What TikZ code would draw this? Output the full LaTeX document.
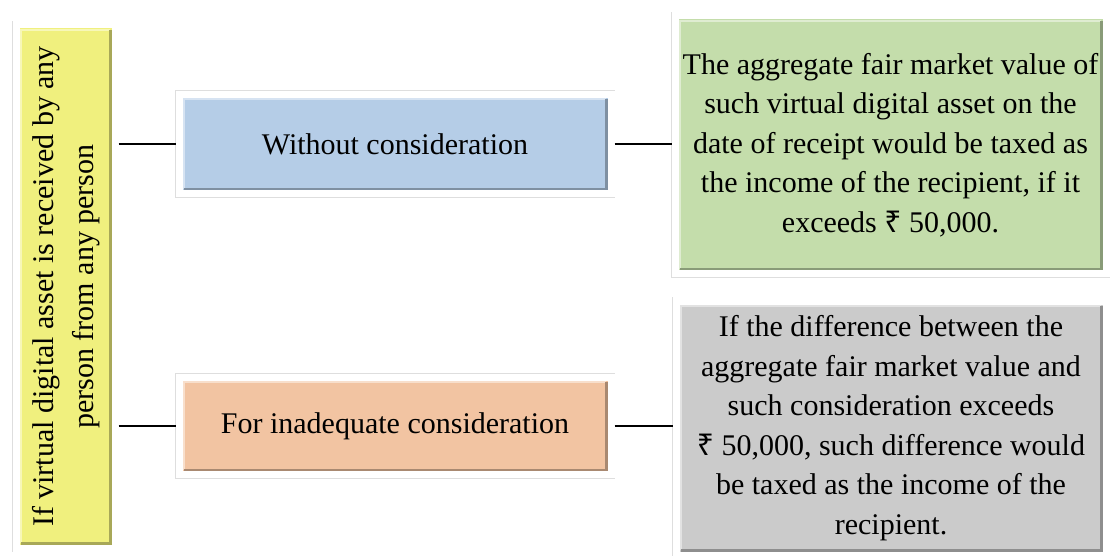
\documentclass[tikz,border=0pt]{standalone}
\usepackage{fontspec}
\setmainfont{Liberation Serif}
\newfontfamily\rupeefont{Noto Sans}
\newcommand\rupee{{\rupeefont ₹}}
\usepackage{graphicx}
\usepackage{tikz}
\usetikzlibrary{shadows}
\definecolor{VDAYellow}{HTML}{F0F07E}
\definecolor{VDABlue}{HTML}{B5CDE7}
\definecolor{VDAOrange}{HTML}{F2C4A2}
\definecolor{VDAGreen}{HTML}{C4DDAB}
\definecolor{VDAGrey}{HTML}{CBCBCB}

\begin{document}
\begin{tikzpicture}[x=0.5pt,y=-0.5pt,
    panel/.style={fill=#1,draw=white,line width=3.5pt,inner sep=0pt,align=center,
      font=\fontsize{15}{19.75}\selectfont,
      drop shadow={shadow xshift=1pt,shadow yshift=-2.2pt,opacity=0.25,fill=black!50},
      preaction={draw=black!13,line width=4.2pt},
      path picture={
        \draw[#1!55!white,line width=1pt]
          ([shift={(2.3pt,2.3pt)}]path picture bounding box.south west)
          |- ([shift={(-2.3pt,-2.3pt)}]path picture bounding box.north east);
        \draw[#1!70!black,line width=1.3pt]
          ([shift={(2.3pt,2.3pt)}]path picture bounding box.south west)
          -| ([shift={(-2.3pt,-2.3pt)}]path picture bounding box.north east);
      }},
    link/.style={draw=black,line width=1pt}
  ]
  \useasboundingbox (0,0) rectangle (1110,556);

  % left column
  \node[panel=VDAYellow,minimum width=49.5pt,minimum height=261.5pt] (receipt) at (65.5,286.5)
    {\rotatebox{90}{\begin{tabular}{@{}c@{}}If virtual digital asset is received by any\\
      person from any person\end{tabular}}};

  % middle column
  \node[panel=VDABlue,minimum width=216pt,minimum height=49.5pt] (without) at (395,144)
    {Without consideration};
  \node[panel=VDAOrange,minimum width=216pt,minimum height=48.5pt] (inadequate) at (395,426)
    {For inadequate consideration};

  % right column
  \node[panel=VDAGreen,minimum width=215.5pt,minimum height=129pt] (fmv) at (890.5,145)
    {The aggregate fair market value of\\such virtual digital asset on the\\
     date of receipt would be taxed as\\the income of the recipient, if it\\
     exceeds \rupee\ 50,000.};
  \node[panel=VDAGrey,minimum width=215pt,minimum height=127pt] (diff) at (891,428)
    {If the difference between the\\aggregate fair market value and\\
     such consideration exceeds\\\rupee\ 50,000, such difference would\\
     be taxed as the income of the\\recipient.};

  \draw[link] (receipt.east |- without.west) -- (without.west);
  \draw[link] (receipt.east |- inadequate.west) -- (inadequate.west);
  \draw[link] (without.east) -- (without.east -| fmv.west);
  \draw[link] (inadequate.east) -- (inadequate.east -| diff.west);
\end{tikzpicture}
\end{document}
